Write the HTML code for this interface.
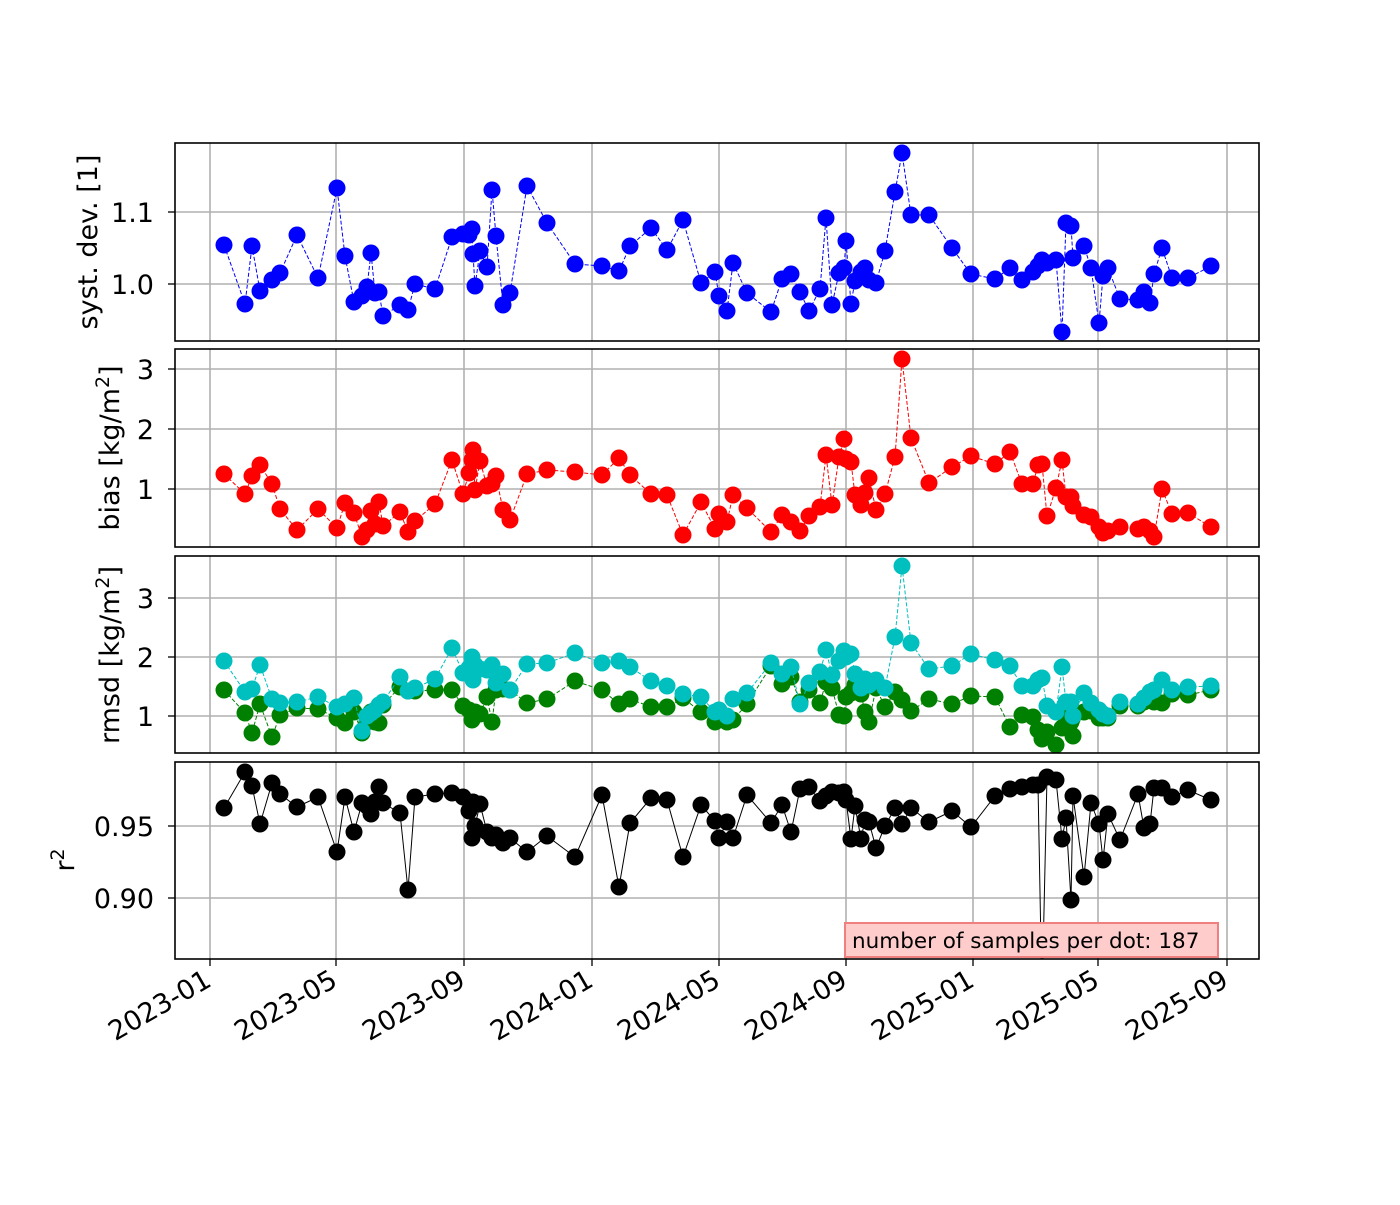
<!DOCTYPE html>
<html><head><meta charset="utf-8"><style>
body{margin:0;background:#fff;}
svg text{font-family:"DejaVu Sans","Liberation Sans",sans-serif;fill:#000;}
</style></head><body>
<svg id="s" width="1400" height="1200" xmlns="http://www.w3.org/2000/svg">
<defs>
<clipPath id="c1"><rect x="175" y="143" width="1084" height="198"/></clipPath>
<clipPath id="c2"><rect x="175" y="349" width="1084" height="198"/></clipPath>
<clipPath id="c3"><rect x="175" y="556" width="1084" height="197"/></clipPath>
<clipPath id="c4"><rect x="175" y="762" width="1084" height="197"/></clipPath>
</defs>
<g id="grid" stroke="#b0b0b0" stroke-width="1.6"></g>
<g id="data"></g>
<g fill="none" stroke="#000" stroke-width="1.6">
<rect x="175" y="143" width="1084" height="198"/>
<rect x="175" y="349" width="1084" height="198"/>
<rect x="175" y="556" width="1084" height="197"/>
<rect x="175" y="762" width="1084" height="197"/>
</g>
<g id="ticks" stroke="#000" stroke-width="1.3"></g>
<g font-size="27" text-anchor="end">
<text x="154" y="222">1.1</text><text x="154" y="294">1.0</text>
<text x="154" y="379">3</text><text x="154" y="439">2</text><text x="154" y="499">1</text>
<text x="154" y="608">3</text><text x="154" y="667">2</text><text x="154" y="726">1</text>
<text x="154" y="836">0.95</text><text x="154" y="908">0.90</text>
</g>
<g font-size="27">
<text transform="translate(97,242) rotate(-90)" text-anchor="middle">syst. dev. [1]</text>
<text transform="translate(119,448) rotate(-90)" text-anchor="middle">bias [kg/m<tspan font-size="19" dy="-10">2</tspan><tspan dy="10">]</tspan></text>
<text transform="translate(119,655) rotate(-90)" text-anchor="middle">rmsd [kg/m<tspan font-size="19" dy="-10">2</tspan><tspan dy="10">]</tspan></text>
<text transform="translate(74,860) rotate(-90)" text-anchor="middle">r<tspan font-size="19" dy="-10">2</tspan></text>
</g>
<g id="xl" font-size="27" text-anchor="end"></g>
<rect x="845" y="923" width="373" height="34" fill="#ffcccc" stroke="#f08080" stroke-width="2"/>
<text x="852" y="948" font-size="21.5">number of samples per dot: 187</text>
</svg>
<script>
const NS="http://www.w3.org/2000/svg";
function el(p,t,a){const e=document.createElementNS(NS,t);for(const k in a)e.setAttribute(k,a[k]);p.appendChild(e);return e;}
const X=[224,245,252,260,272,280,297,318,337,345,354,362,367,371,375,379,383,400,408,415,435,452,463,469,472,473,475,480,487,492,496,503,510,527,547,575,602,619,630,651,667,683,701,715,719,727,733,747,771,782,791,800,809,820,826,832,839,844,846,851,855,861,865,869,876,885,895,902,911,929,952,971,995,1010,1022,1033,1038,1042,1047,1056,1062,1066,1071,1073,1084,1091,1099,1103,1108,1120,1138,1144,1150,1154,1162,1172,1188,1211];
const B=[245,304,246,291,280,273,235,278,188,256,302,296,287,253,293,292,316,305,310,284,289,237,234,235,229,254,286,251,267,190,236,305,293,186,223,264,266,271,246,228,250,220,283,272,296,311,263,293,312,279,274,292,311,289,218,305,273,268,241,304,281,272,268,280,283,251,192,153,215,215,248,274,279,268,280,272,266,260,263,260,332,223,226,258,246,268,323,276,268,299,300,292,303,274,248,278,278,266];
const R=[474,494,476,465,484,509,530,509,528,503,513,537,530,511,524,502,526,512,532,521,504,460,494,473,460,450,490,461,486,484,476,510,520,474,470,472,475,458,475,494,495,535,502,529,514,522,495,508,532,515,522,531,516,507,455,505,457,439,459,462,495,505,493,478,510,494,457,359,438,483,467,456,464,452,484,484,465,464,516,488,460,497,497,506,515,517,527,533,531,527,529,527,531,537,489,514,513,527];
const C=[661,692,689,665,699,703,702,697,707,704,698,731,716,713,710,705,702,677,691,688,679,648,673,668,657,680,665,669,670,665,683,674,690,664,663,653,663,661,667,681,686,694,697,712,710,716,699,693,663,674,667,704,683,672,650,675,661,651,657,654,674,688,679,685,680,688,637,566,643,669,666,654,660,666,686,686,680,678,706,712,667,702,702,716,693,703,710,714,716,702,704,698,692,690,680,690,687,686];
const G=[690,713,733,704,737,715,708,709,718,723,712,733,722,712,722,723,705,687,691,691,690,690,706,710,720,716,712,714,697,722,690,689,690,703,699,681,690,704,699,707,707,698,712,722,720,722,720,704,666,684,677,702,690,703,682,688,715,716,697,693,685,694,712,722,688,707,692,700,711,699,704,696,697,727,715,717,730,739,732,745,728,717,722,736,712,711,718,718,718,706,706,702,700,702,703,694,695,690];
const K=[808,772,786,824,783,794,807,797,852,797,832,803,806,814,802,787,803,813,890,797,794,793,797,811,838,802,826,804,832,838,835,843,838,852,836,857,795,887,823,798,800,857,805,821,838,822,838,795,823,805,832,789,787,801,796,792,793,792,800,839,806,839,820,822,848,826,808,824,808,822,811,827,796,789,787,785,785,1000,777,780,839,818,900,796,877,803,824,860,814,840,794,828,824,788,788,797,790,800];
const grid=document.getElementById('grid'),tk=document.getElementById('ticks'),xl=document.getElementById('xl');
const XT=[[210,'2023-01'],[336,'2023-05'],[464,'2023-09'],[592,'2024-01'],[719,'2024-05'],[846,'2024-09'],[973,'2025-01'],[1098,'2025-05'],[1227,'2025-09']];
const P=[[143,341],[349,547],[556,753],[762,959]];
XT.forEach(([x,l])=>{P.forEach(([a,b])=>el(grid,'line',{x1:x,x2:x,y1:a,y2:b}));
 el(tk,'line',{x1:x,x2:x,y1:959,y2:966});
 const t=el(xl,'text',{transform:`translate(${x+3},${985}) rotate(-30)`});t.textContent=l;});
[[212],[284],[369],[429],[489],[598],[657],[716],[826],[898]].forEach(([y])=>{el(grid,'line',{x1:175,x2:1259,y1:y,y2:y});el(tk,'line',{x1:168,x2:175,y1:y,y2:y});});
const d=document.getElementById('data');
function series(Y,col,clip,dash,lw){const g=el(d,'g',{'clip-path':`url(#${clip})`});
 el(g,'polyline',{points:X.map((x,i)=>x+','+Y[i]).join(' '),fill:'none',stroke:col,'stroke-width':lw,'stroke-dasharray':dash?'4,2':'none'});
 X.forEach((x,i)=>el(g,'circle',{cx:x,cy:Y[i],r:8.5,fill:col}));}
series(B,'#0000ff','c1',1,1);
series(R,'#ff0000','c2',1,1);
series(G,'#008000','c3',1,1);
series(C,'#00bfbf','c3',1,1);
series(K,'#000000','c4',0,1);
</script>
</body></html>
